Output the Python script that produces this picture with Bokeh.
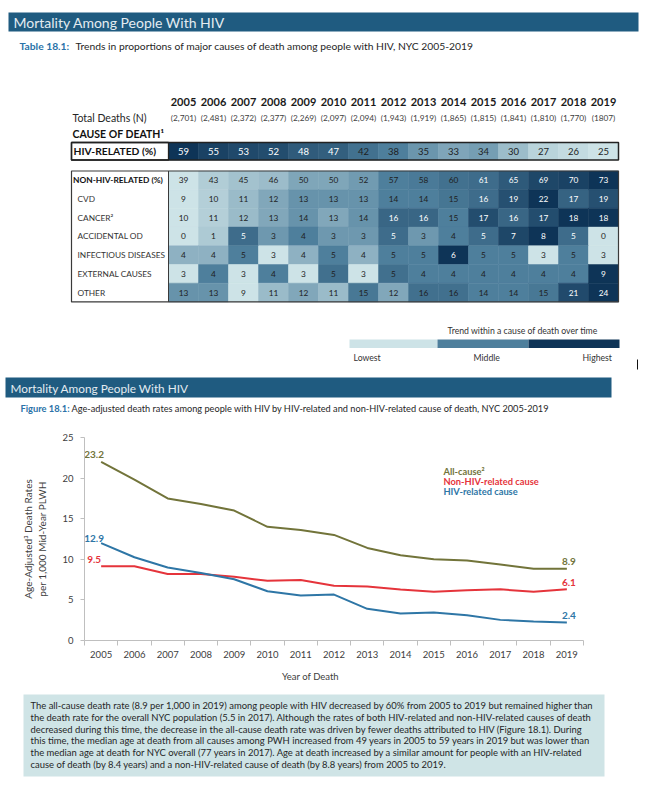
from bokeh.plotting import figure
from bokeh.models import Range1d, FixedTicker
from bokeh.core.properties import value
from bokeh.embed import file_html
from bokeh.resources import INLINE
import numpy as np

# ---------------- data ----------------
years = list(range(2005, 2020))
total_deaths = ["(2,701)", "(2,481)", "(2,372)", "(2,377)", "(2,269)", "(2,097)", "(2,094)",
                "(1,943)", "(1,919)", "(1,865)", "(1,815)", "(1,841)", "(1,810)", "(1,770)", "(1807)"]
hiv_related = [59, 55, 53, 52, 48, 47, 42, 38, 35, 33, 34, 30, 27, 26, 25]
non_hiv_related = [39, 43, 45, 46, 50, 50, 52, 57, 58, 60, 61, 65, 69, 70, 73]
cvd = [9, 10, 11, 12, 13, 13, 13, 14, 14, 15, 16, 19, 22, 17, 19]
cancer = [10, 11, 12, 13, 14, 13, 14, 16, 16, 15, 17, 16, 17, 18, 18]
accidental_od = [0, 1, 5, 3, 4, 3, 3, 5, 3, 4, 5, 7, 8, 5, 0]
infectious = [4, 4, 5, 3, 4, 5, 4, 5, 5, 6, 5, 5, 3, 5, 3]
external = [3, 4, 3, 4, 3, 5, 3, 5, 4, 4, 4, 4, 4, 4, 9]
other = [13, 13, 9, 11, 12, 11, 15, 12, 16, 16, 14, 14, 15, 21, 24]
row_labels = ["NON-HIV-RELATED (%)", "CVD", "CANCER²", "ACCIDENTAL OD",
              "INFECTIOUS DISEASES", "EXTERNAL CAUSES", "OTHER"]
row_values = [non_hiv_related, cvd, cancer, accidental_od, infectious, external, other]
legend_scale_labels = ["Lowest", "Middle", "Highest"]

rate_years = list(range(2005, 2020))
all_cause = [22.0, 19.8, 17.5, 16.8, 16.0, 14.0, 13.6, 13.0, 11.4, 10.5, 10.0, 9.85, 9.35, 8.85, 8.85]
non_hiv_rate = [9.15, 9.15, 8.2, 8.2, 7.85, 7.35, 7.45, 6.75, 6.65, 6.27, 6.0, 6.2, 6.3, 6.0, 6.3]
hiv_rate = [12.0, 10.25, 9.0, 8.3, 7.55, 6.07, 5.53, 5.65, 3.9, 3.32, 3.44, 3.12, 2.54, 2.34, 2.21]
series_names = ["All-cause²", "Non-HIV-related cause", "HIV-related cause"]
start_labels = ["23.2", "9.5", "12.9"]
end_labels = ["8.9", "6.1", "2.4"]
y_ticks = [0, 5, 10, 15, 20, 25]

paragraph = [
    "The all-cause death rate (8.9 per 1,000 in 2019) among people with HIV decreased by 60% from 2005 to 2019 but remained higher than",
    "the death rate for the overall NYC population (5.5 in 2017). Although the rates of both HIV-related and non-HIV-related causes of death",
    "decreased during this time, the decrease in the all-cause death rate was driven by fewer deaths attributed to HIV (Figure 18.1). During",
    "this time, the median age at death from all causes among PWH increased from 49 years in 2005 to 59 years in 2019 but was lower than",
    "the median age at death for NYC overall (77 years in 2017). Age at death increased by a similar amount for people with an HIV-related",
    "cause of death (by 8.4 years) and a non-HIV-related cause of death (by 8.8 years) from 2005 to 2019.",
]

# ---------------- styles ----------------
FONT = value("Lato")
HEAD_BG = "#1f5b80"
HEAD_FG = "#e4ecf1"
CAP_BLUE = "#2a72a8"
DARK = "#262626"
LIGHT_C = np.array([0xcd, 0xe3, 0xe7])
MID_C = np.array([0x4e, 0x7f, 0x9c])
DARK_C = np.array([0x0e, 0x34, 0x57])
OLIVE = "#72743a"
RED = "#e5343b"
BLUE = "#2e76a6"
W = 656


def hexcol(c):
    c = np.clip(np.round(c), 0, 255).astype(int)
    return "#%02x%02x%02x" % tuple(c)


def scale_colors(vals):
    v = np.array(vals, dtype=float)
    lo, med, hi = v.min(), np.percentile(v, 50), v.max()
    cols, ts = [], []
    for x in v:
        if x <= med:
            t = 0.5 * (x - lo) / (med - lo) if med > lo else 0.5
        else:
            t = 0.5 + 0.5 * (x - med) / (hi - med) if hi > med else 0.5
        if t <= 0.5:
            c = LIGHT_C + (MID_C - LIGHT_C) * (t / 0.5)
        else:
            c = MID_C + (DARK_C - MID_C) * ((t - 0.5) / 0.5)
        cols.append(hexcol(c))
        ts.append(t)
    txt = ["#ffffff" if t > 0.62 else "#1e1e1e" for t in ts]
    return cols, txt


def txt(fig, x, y, s, size, color, bold=False, align="left", baseline="middle"):
    fig.text(x=[x], y=[y], text=[s], text_font=FONT, text_font_size=size, text_color=color,
             text_font_style="bold" if bold else "normal", text_align=align, text_baseline=baseline)


# ---------------- top figure: header + table + second header ----------------
H1 = 420
PXY = 30.0                      # pixels per year column
X0 = 2005 - 183 / PXY           # 2005 column centred at x=183


def xp(px):
    return X0 + px / PXY


top = figure(width=W, height=H1, x_range=Range1d(X0, X0 + W / PXY), y_range=Range1d(H1, 0),
             output_backend="svg", toolbar_location=None, min_border=0,
             x_axis_location=None, y_axis_location=None, outline_line_color=None)
top.grid.grid_line_color = None

# header bar 1
top.quad(left=[xp(8)], right=[xp(638)], top=[12], bottom=[31], fill_color=HEAD_BG, line_color=None)
txt(top, xp(13), 22, "Mortality Among People With HIV", "14px", HEAD_FG)
# caption 1
txt(top, xp(19), 45, "Table 18.1:", "10.3px", CAP_BLUE, bold=True)
txt(top, xp(75), 45, "Trends in proportions of major causes of death among people with HIV, NYC 2005-2019",
    "10.3px", DARK)

# year header and totals
top.text(x=years, y=[101] * len(years), text=[str(y) for y in years], text_font=FONT,
         text_font_size="11px", text_font_style="bold", text_color="#1a1a1a",
         text_align="center", text_baseline="middle")
txt(top, xp(72), 117, "Total Deaths (N)", "10.5px", DARK)
top.text(x=years, y=[117] * len(years), text=total_deaths, text_font=FONT,
         text_font_size="8.3px", text_color="#404040", text_align="center", text_baseline="middle")
txt(top, xp(72), 133, "CAUSE OF DEATH¹", "10.5px", "#111111", bold=True)

# HIV-related row
hiv_cols, hiv_txt = scale_colors(hiv_related)
hy0, hy1 = 142, 159.5
top.rect(x=years, y=[(hy0 + hy1) / 2] * len(years), width=1, height=hy1 - hy0,
         fill_color=hiv_cols, line_color=hiv_cols, line_width=0.5)
top.text(x=years, y=[(hy0 + hy1) / 2] * len(years), text=[str(v) for v in hiv_related],
         text_font=FONT, text_font_size="9.5px", text_color=hiv_txt, text_align="center",
         text_baseline="middle")
top.quad(left=[xp(71)], right=[xp(168)], top=[hy0], bottom=[hy1], fill_color="white",
         line_color="#222222", line_width=1.3)
top.quad(left=[xp(71)], right=[xp(618)], top=[hy0], bottom=[hy1], fill_color=None,
         line_color="#222222", line_width=1.5)
txt(top, xp(73), (hy0 + hy1) / 2, "HIV-RELATED (%)", "10.3px", "#111111", bold=True)

# non-HIV block
by0, rh = 170.5, 18.7
top.quad(left=[xp(71)], right=[xp(168)], top=[by0], bottom=[by0 + 7 * rh], fill_color="white",
         line_color=None)
for i, (lab, vals) in enumerate(zip(row_labels, row_values)):
    cy = by0 + (i + 0.5) * rh
    cols, tcols = scale_colors(vals)
    top.rect(x=years, y=[cy] * len(years), width=1, height=rh, fill_color=cols, line_color=cols,
             line_width=0.5)
    top.text(x=years, y=[cy] * len(years), text=[str(v) for v in vals], text_font=FONT,
             text_font_size="8.3px", text_color=tcols, text_align="center", text_baseline="middle")
    if i == 0:
        txt(top, xp(72.5), cy, lab, "8.4px", "#111111", bold=True)
    else:
        txt(top, xp(77), cy, lab, "8.3px", "#333333")
top.quad(left=[xp(71)], right=[xp(618)], top=[by0], bottom=[by0 + 7 * rh], fill_color=None,
         line_color="#3a3a3a", line_width=1.2)
top.segment(x0=[xp(168)], y0=[by0], x1=[xp(168)], y1=[by0 + 7 * rh], line_color="#3a3a3a",
            line_width=1)

# colour-scale legend
txt(top, xp(447), 330, "Trend within a cause of death over time", "8.7px", "#333333")
top.quad(left=[xp(349), xp(437), xp(528)], right=[xp(437), xp(528), xp(619)],
         top=[339] * 3, bottom=[347.5] * 3,
         fill_color=[hexcol(LIGHT_C), hexcol(MID_C), hexcol(DARK_C)], line_color=None)
top.text(x=[xp(353), xp(473), xp(582)], y=[357] * 3, text=legend_scale_labels, text_font=FONT,
         text_font_size="8.7px", text_color="#333333", text_align="left", text_baseline="middle")
top.segment(x0=[xp(637)], y0=[359], x1=[xp(637)], y1=[369], line_color="#111111", line_width=1)

# header bar 2
top.quad(left=[xp(5)], right=[xp(611)], top=[377], bottom=[397], fill_color=HEAD_BG, line_color=None)
txt(top, xp(10), 387.5, "Mortality Among People With HIV", "11.8px", HEAD_FG)
txt(top, xp(20), 407.5, "Figure 18.1:", "9.3px", CAP_BLUE, bold=True)
txt(top, xp(71), 407.5,
    "Age-adjusted death rates among people with HIV by HIV-related and non-HIV-related cause of death, NYC 2005-2019",
    "9.2px", DARK)

# ---------------- line chart ----------------
chart = figure(width=W, height=246, x_range=Range1d(2004.5, 2019.5), y_range=Range1d(0, 25),
               output_backend="svg", toolbar_location=None, min_border_left=84, min_border_right=73,
               min_border_top=17, min_border_bottom=26, outline_line_color=None)
chart.grid.grid_line_color = None
AX = "#bfbfbf"
TL = "#404040"
xa = chart.xaxis[0]
xa.ticker = FixedTicker(ticks=rate_years, minor_ticks=[y - 0.5 for y in rate_years] + [rate_years[-1] + 0.5])
xa.axis_line_color = AX
xa.major_tick_line_color = None
xa.major_tick_out = 0
xa.minor_tick_line_color = AX
xa.minor_tick_out = 5
xa.minor_tick_in = 0
xa.major_label_standoff = 5
xa.major_label_text_font = "Lato"
xa.major_label_text_font_size = "9.5px"
xa.major_label_text_color = TL
ya = chart.yaxis[0]
ya.ticker = FixedTicker(ticks=y_ticks)
ya.axis_line_color = AX
ya.major_tick_line_color = AX
ya.major_tick_out = 4
ya.major_tick_in = 0
ya.minor_tick_line_color = None
ya.major_label_standoff = 7
ya.major_label_text_font = "Lato"
ya.major_label_text_font_size = "9.5px"
ya.major_label_text_color = TL
ya.axis_label = "Age-Adjusted³ Death Rates\nper 1,000 Mid-Year PLWH"
ya.axis_label_text_font = "Lato"
ya.axis_label_text_font_size = "10px"
ya.axis_label_text_font_style = "normal"
ya.axis_label_text_color = TL
ya.axis_label_standoff = 11

series = [all_cause, non_hiv_rate, hiv_rate]
colors = [OLIVE, RED, BLUE]
for vals, col in zip(series, colors):
    chart.line(rate_years, vals, line_color=col, line_width=2)

start_dy = [-7, -7, -5]
for vals, col, s, e, dy in zip(series, colors, start_labels, end_labels, start_dy):
    chart.text(x=[rate_years[0]], y=[vals[0]], text=[s], text_font=FONT, text_font_size="10px",
               text_font_style="bold", text_color=col, text_align="center", text_baseline="middle",
               x_offset=-7, y_offset=dy)
    chart.text(x=[rate_years[-1]], y=[vals[-1]], text=[e], text_font=FONT, text_font_size="10px",
               text_font_style="bold", text_color=col, text_align="center", text_baseline="middle",
               x_offset=2, y_offset=-7)

chart.text(x=[2015.29] * 3, y=[20.8, 19.57, 18.34], text=series_names, text_font=FONT,
           text_font_size="9.3px", text_font_style="bold", text_color=colors, text_align="left",
           text_baseline="middle")

# ---------------- x-axis title + text box ----------------
H3 = 124
Y3 = 666
box = figure(width=W, height=H3, x_range=Range1d(0, W), y_range=Range1d(H3, 0), output_backend="svg",
             toolbar_location=None, min_border=0, x_axis_location=None, y_axis_location=None,
             outline_line_color=None)
box.grid.grid_line_color = None
txt(box, 310, 676 - Y3, "Year of Death", "9.5px", TL, align="center")
box.quad(left=[23], right=[604], top=[694 - Y3], bottom=[776 - Y3], fill_color="#cfe4e6", line_color=None)
box.text(x=[30] * len(paragraph), y=[705 - Y3 + 11.8 * i for i in range(len(paragraph))], text=paragraph,
         text_font=FONT, text_font_size="9.45px", text_color=DARK, text_align="left", text_baseline="middle")

open("out.html", "w").write(file_html([top, chart, box], INLINE))
